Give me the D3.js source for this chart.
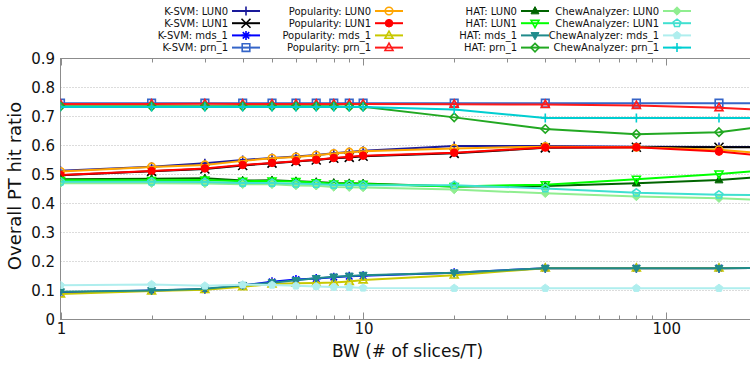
<!DOCTYPE html>
<html><head><meta charset="utf-8">
<script src="https://cdn.jsdelivr.net/npm/d3@7"></script>
<style>
html,body{margin:0;padding:0;background:#fff;}
svg{display:block;font-family:"DejaVu Sans",Verdana,sans-serif;}
</style></head><body>
<svg id="chart" width="750" height="366"></svg>
<script>
// BW values (# of slices / T)
const bw = [1, 2, 3, 4, 5, 6, 7, 8, 9, 10, 20, 40, 80, 150, 200];

// K-SVM
const ksvmLun0 = [0.513, 0.527, 0.539, 0.550, 0.557, 0.562, 0.567, 0.573, 0.578, 0.582, 0.598, 0.598, 0.596, 0.595, 0.595];
const ksvmLun1 = [0.497, 0.511, 0.519, 0.531, 0.539, 0.545, 0.550, 0.556, 0.559, 0.563, 0.573, 0.592, 0.594, 0.594, 0.594];
const ksvmMds1 = [0.093, 0.100, 0.104, 0.117, 0.130, 0.138, 0.141, 0.146, 0.149, 0.151, 0.161, 0.177, 0.177, 0.177, 0.178];
const ksvmPrn1 = [0.746, 0.746, 0.746, 0.746, 0.746, 0.746, 0.746, 0.746, 0.746, 0.746, 0.746, 0.746, 0.746, 0.746, 0.746];
// Popularity
const popLun0 = [0.510, 0.526, 0.533, 0.547, 0.556, 0.560, 0.566, 0.572, 0.577, 0.580, 0.590, 0.596, 0.594, 0.585, 0.575];
const popLun1 = [0.498, 0.512, 0.521, 0.533, 0.540, 0.546, 0.551, 0.557, 0.561, 0.565, 0.575, 0.593, 0.594, 0.579, 0.567];
const popMds1 = [0.088, 0.098, 0.103, 0.113, 0.122, 0.125, 0.126, 0.128, 0.131, 0.136, 0.153, 0.177, 0.177, 0.177, 0.178];
const popPrn1 = [0.743, 0.743, 0.744, 0.743, 0.743, 0.743, 0.743, 0.743, 0.743, 0.743, 0.742, 0.741, 0.738, 0.730, 0.724];
// HAT
const hatLun0 = [0.484, 0.485, 0.487, 0.479, 0.480, 0.477, 0.474, 0.471, 0.470, 0.469, 0.459, 0.460, 0.470, 0.481, 0.490];
const hatLun1 = [0.480, 0.480, 0.481, 0.477, 0.478, 0.476, 0.472, 0.468, 0.468, 0.467, 0.459, 0.465, 0.484, 0.502, 0.512];
const hatMds1 = [0.096, 0.100, 0.106, 0.118, 0.127, 0.135, 0.142, 0.147, 0.150, 0.153, 0.161, 0.177, 0.177, 0.177, 0.178];
const hatPrn1 = [0.735, 0.735, 0.735, 0.735, 0.735, 0.735, 0.735, 0.735, 0.734, 0.734, 0.697, 0.657, 0.639, 0.646, 0.662];
// ChewAnalyzer
const chewLun0 = [0.470, 0.470, 0.469, 0.466, 0.466, 0.462, 0.461, 0.457, 0.456, 0.455, 0.448, 0.435, 0.424, 0.418, 0.413];
const chewLun1 = [0.475, 0.475, 0.474, 0.471, 0.471, 0.468, 0.467, 0.464, 0.464, 0.463, 0.463, 0.452, 0.437, 0.430, 0.429];
const chewMds1 = [0.118, 0.121, 0.116, 0.120, 0.119, 0.116, 0.114, 0.112, 0.111, 0.109, 0.108, 0.108, 0.108, 0.108, 0.108];
const chewPrn1 = [0.733, 0.733, 0.733, 0.733, 0.733, 0.733, 0.733, 0.733, 0.733, 0.733, 0.724, 0.695, 0.695, 0.695, 0.695];

const seriesNames = [
  "K-SVM: LUN0", "K-SVM: LUN1", "K-SVM: mds_1", "K-SVM: prn_1",
  "Popularity: LUN0", "Popularity: LUN1", "Popularity: mds_1", "Popularity: prn_1",
  "HAT: LUN0", "HAT: LUN1", "HAT: mds_1", "HAT: prn_1",
  "ChewAnalyzer: LUN0", "ChewAnalyzer: LUN1", "ChewAnalyzer: mds_1", "ChewAnalyzer: prn_1"
];
const seriesValues = [
  ksvmLun0, ksvmLun1, ksvmMds1, ksvmPrn1,
  popLun0, popLun1, popMds1, popPrn1,
  hatLun0, hatLun1, hatMds1, hatPrn1,
  chewLun0, chewLun1, chewMds1, chewPrn1
];
const yTickValues = [0, 0.1, 0.2, 0.3, 0.4, 0.5, 0.6, 0.7, 0.8, 0.9];
const xTickLabels = [1, 10, 100];
const xTitle = "BW (# of slices/T)";
const yTitle = "Overall PT hit ratio";

// line colour and point type for each series, in drawing order
const colors = [
  "#1a1a9a", "#000000", "#0000ff", "#3565c8",
  "#ffa500", "#ff0000", "#c8c800", "#ff1a1a",
  "#006400", "#00ff00", "#208b8b", "#22a822",
  "#90ee90", "#40e0d0", "#afeeee", "#00ced1"
];
const markers = [
  "plus", "cross", "star", "square",
  "circle", "circleFilled", "triangle", "triangle",
  "triangleFilled", "triangleDown", "triangleDownFilled", "diamond",
  "diamondFilled", "pentagon", "pentagonFilled", "plus"
];

const series = seriesNames.map((name, i) => ({
  name, color: colors[i], marker: markers[i],
  points: bw.map((b, j) => ({ b, v: seriesValues[i][j] }))
}));

const svg = d3.select("#chart");
const plot = { left: 60.5, top: 58.5, bottom: 319.5, decade: 302.6 };
const xMax = 200;

const x = d3.scaleLog().domain([1, xMax])
  .range([plot.left, plot.left + plot.decade * Math.log10(xMax)]);
const y = d3.scaleLinear().domain([0, 0.9]).range([plot.bottom, plot.top]);
const xRight = x(xMax);

const defs = svg.append("defs");
defs.append("clipPath").attr("id", "plotClip").append("rect")
  .attr("x", plot.left).attr("y", plot.top - 10)
  .attr("width", xRight - plot.left + 10).attr("height", plot.bottom - plot.top + 20);

// horizontal dotted grid
svg.append("g").selectAll("line")
  .data(yTickValues.filter(v => v > 0 && v < 0.9))
  .join("line")
  .attr("x1", plot.left).attr("x2", xRight)
  .attr("y1", d => y(d)).attr("y2", d => y(d))
  .attr("stroke", "#b8b8b8").attr("stroke-width", 1)
  .attr("stroke-dasharray", "1,2");

// border (left, bottom, top, right)
const borderColor = "#8c8c8c";
svg.append("rect")
  .attr("x", plot.left).attr("y", plot.top)
  .attr("width", xRight - plot.left).attr("height", plot.bottom - plot.top)
  .attr("fill", "none").attr("stroke", borderColor).attr("stroke-width", 1);

// x ticks, bottom (inward) and mirrored on top
const minorTicks = [];
for (let dec = 1; dec <= 100; dec *= 10) {
  for (let k = 1; k <= 9; k++) {
    const v = k * dec;
    if (v <= xMax) minorTicks.push(v);
  }
}
minorTicks.push(200);
const tickG = svg.append("g").attr("stroke", borderColor).attr("stroke-width", 1);
minorTicks.forEach(v => {
  const major = xTickLabels.includes(v);
  const len = major ? 7 : 4;
  const px = Math.round(x(v)) + 0.5;
  tickG.append("line").attr("x1", px).attr("x2", px)
    .attr("y1", plot.bottom).attr("y2", plot.bottom - len);
  tickG.append("line").attr("x1", px).attr("x2", px)
    .attr("y1", plot.top).attr("y2", plot.top + len);
});

// axis labels
svg.append("g").selectAll("text")
  .data(yTickValues).join("text")
  .attr("x", 55).attr("y", d => y(d)).attr("dy", "0.36em")
  .attr("text-anchor", "end").attr("font-size", 15).attr("fill", "#111")
  .text(d => d3.format("~g")(d));
svg.append("g").selectAll("text")
  .data(xTickLabels).join("text")
  .attr("x", d => x(d) + 1).attr("y", 334)
  .attr("text-anchor", "middle").attr("font-size", 15).attr("fill", "#111")
  .text(d => d);

svg.append("text").attr("x", 407.5).attr("y", 357)
  .attr("text-anchor", "middle").attr("font-size", 17).attr("fill", "#111")
  .text(xTitle);
svg.append("text")
  .attr("transform", "translate(21,186) rotate(-90)")
  .attr("text-anchor", "middle").attr("font-size", 18).attr("fill", "#111")
  .text(yTitle);

// point shapes
function markerPath(type, s) {
  const t = type.replace("Filled", "");
  switch (t) {
    case "plus": return `M${-s},0H${s}M0,${-s}V${s}`;
    case "cross": return `M${-s},${-s}L${s},${s}M${-s},${s}L${s},${-s}`;
    case "star": {
      const d = s * 0.72;
      return `M${-s},0H${s}M0,${-s}V${s}M${-d},${-d}L${d},${d}M${-d},${d}L${d},${-d}`;
    }
    case "square": return `M${-s},${-s}H${s}V${s}H${-s}Z`;
    case "circle": return `M${s},0A${s},${s} 0 1,1 ${-s},0A${s},${s} 0 1,1 ${s},0Z`;
    case "triangle": return `M0,${-s * 1.15}L${s * 1.05},${s * 0.75}L${-s * 1.05},${s * 0.75}Z`;
    case "triangleDown": return `M0,${s * 1.15}L${s * 1.05},${-s * 0.75}L${-s * 1.05},${-s * 0.75}Z`;
    case "diamond": return `M0,${-s}L${s},0L0,${s}L${-s},0Z`;
    case "pentagon": {
      const pts = d3.range(5).map(k => {
        const a = -Math.PI / 2 + k * 2 * Math.PI / 5;
        return [s * 1.05 * Math.cos(a), s * 1.05 * Math.sin(a)];
      });
      return "M" + pts.map(p => p.join(",")).join("L") + "Z";
    }
  }
  return "";
}
function markerSize(type) {
  const t = type.replace("Filled", "");
  if (t === "diamond") return 4.2;
  if (t === "plus" || t === "cross" || t === "star") return 4.5;
  return 3.8;
}
function drawMarker(g, type, color, cx, cy) {
  const filled = type.endsWith("Filled");
  g.append("path")
    .attr("transform", `translate(${cx},${cy})`)
    .attr("d", markerPath(type, markerSize(type)))
    .attr("fill", filled ? color : "none")
    .attr("stroke", color)
    .attr("stroke-width", filled ? 1 : 1.6);
}

const line = d3.line().x(d => x(d.b)).y(d => y(d.v));
const dataG = svg.append("g").attr("clip-path", "url(#plotClip)");
series.forEach(s => {
  const g = dataG.append("g");
  g.append("path").datum(s.points)
    .attr("d", line)
    .attr("fill", "none").attr("stroke", s.color)
    .attr("stroke-width", 2).attr("stroke-linejoin", "round");
  s.points.forEach(p => drawMarker(g, s.marker, s.color, x(p.b), y(p.v)));
});

// legend: four columns of four entries
const legendTextEnd = [228, 371, 517, 659];
const legendRowY = [11, 23.2, 35.4, 47.6];
const legendG = svg.append("g");
series.forEach((s, i) => {
  const col = Math.floor(i / 4), row = i % 4;
  const tx = legendTextEnd[col], ty = legendRowY[row];
  legendG.append("text").attr("x", tx).attr("y", ty).attr("dy", "0.35em")
    .attr("text-anchor", "end").attr("font-size", 10).attr("fill", "#111")
    .text(s.name);
  const x0 = tx + 4, x1 = tx + 32;
  legendG.append("line").attr("x1", x0).attr("x2", x1)
    .attr("y1", ty).attr("y2", ty)
    .attr("stroke", s.color).attr("stroke-width", 2);
  drawMarker(legendG, s.marker, s.color, (x0 + x1) / 2, ty);
});
</script>
</body></html>
